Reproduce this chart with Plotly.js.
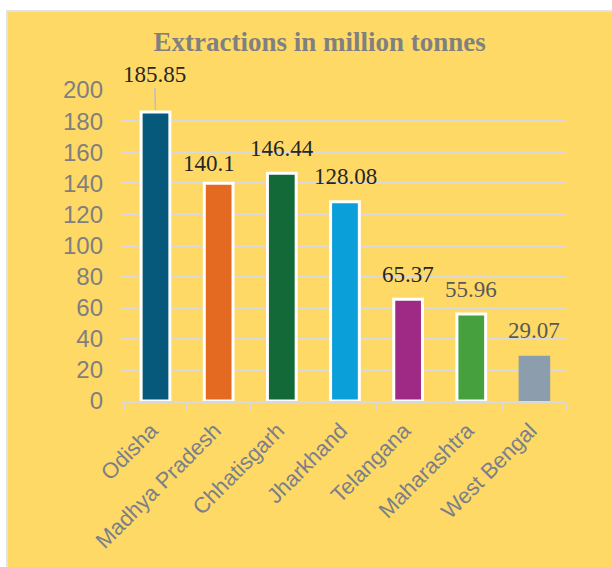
<!DOCTYPE html>
<html>
<head>
<meta charset="utf-8">
<script src="https://cdn.plot.ly/plotly-3.0.1.min.js"></script>
<style>
  html, body { margin: 0; padding: 0; background: #ffffff; width: 612px; height: 567px; overflow: hidden; }
  #wrap { position: absolute; left: 6px; top: 10px; border-left: 2px solid #e3e3e3; border-top: 2px solid #e3e3e3; }
  #chart { width: 604px; height: 555px; }
</style>
</head>
<body>
<div id="wrap"><div id="chart"></div></div>
<script>
// Data
const states = ["Odisha", "Madhya Pradesh", "Chhatisgarh", "Jharkhand", "Telangana", "Maharashtra", "West Bengal"];
const extractions = [185.85, 140.1, 146.44, 128.08, 65.37, 55.96, 29.07];
const valueLabels = ["185.85", "140.1", "146.44", "128.08", "65.37", "55.96", "29.07"];
const yTicks = [0, 20, 40, 60, 80, 100, 120, 140, 160, 180, 200];

// Styles
const barColors = ["#06597A", "#E46A22", "#136A38", "#0B9FDA", "#9E2A86", "#46A03E", "#8C9DAE"];
const labelColors = ["#262626", "#262626", "#262626", "#262626", "#262626", "#595959", "#595959"];
const labelXShift = [0, -10, 0, 1, 0, 0, 0];
const labelYShift = [0, 20, 25, 25, 25, 24, 25];

const trace = {
  type: "bar",
  x: states,
  y: extractions,
  width: [0.455, 0.455, 0.455, 0.455, 0.455, 0.455, 0.5],
  marker: {
    color: barColors,
    line: { color: "#ffffff", width: [3, 3, 3, 3, 3, 3, 0] }
  },
  hoverinfo: "x+y"
};

const annotations = states.map((s, i) => {
  if (i === 0) {
    return {
      x: s, y: extractions[i], xref: "x", yref: "y",
      text: valueLabels[i], showarrow: true, arrowhead: 0, arrowwidth: 1.5,
      arrowcolor: "#bdbdbd", ax: -1, ay: -38, standoff: 2,
      font: { family: "Liberation Serif, Times New Roman, serif", size: 23, color: labelColors[i] }
    };
  }
  return {
    x: s, y: extractions[i], xref: "x", yref: "y",
    text: valueLabels[i], showarrow: false,
    xanchor: "center", yanchor: "middle",
    xshift: labelXShift[i], yshift: labelYShift[i],
    font: { family: "Liberation Serif, Times New Roman, serif", size: 23, color: labelColors[i] }
  };
});

const layout = {
  width: 604,
  height: 555,
  paper_bgcolor: "#FFD966",
  plot_bgcolor: "rgba(0,0,0,0)",
  margin: { l: 113, r: 46, t: 78, b: 166 },
  showlegend: false,
  bargap: 0.5,
  title: {
    text: "<b>Extractions in million tonnes</b>",
    xref: "container", x: 0.516, xanchor: "center",
    yref: "container", y: 0.946, yanchor: "middle",
    font: { family: "Liberation Serif, Times New Roman, serif", size: 27, color: "#808080" }
  },
  xaxis: {
    type: "category",
    tickangle: -45,
    tickson: "boundaries",
    ticks: "outside",
    ticklen: 7,
    tickwidth: 1.5,
    tickcolor: "#d9d9d9",
    ticklabelstandoff: 6,
    ticklabelshift: -4,
    showline: true,
    linecolor: "#d9d9d9",
    linewidth: 2,
    showgrid: false,
    tickfont: { family: "Liberation Sans, Arial, sans-serif", size: 22, color: "#7a7f8a" }
  },
  yaxis: {
    range: [0, 200],
    tickvals: yTicks,
    ticktext: yTicks.map(String),
    ticks: "",
    ticklabelstandoff: 17,
    showline: false,
    showgrid: true,
    gridcolor: "#d9d9d9",
    gridwidth: 2,
    zeroline: false,
    tickfont: { family: "Liberation Sans, Arial, sans-serif", size: 24, color: "#7f7f7f" }
  },
  annotations: annotations
};

Plotly.newPlot("chart", [trace], layout, { displayModeBar: false, staticPlot: true });
</script>
</body>
</html>
